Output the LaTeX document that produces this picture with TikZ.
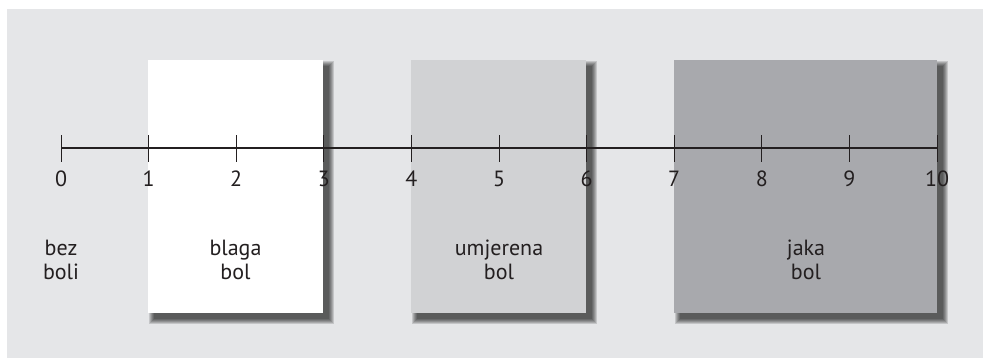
\documentclass[tikz,border=0pt]{standalone}
\usepackage{fontspec}
\setmainfont{PT Sans}
\definecolor{panel}{HTML}{E5E6E8}
\definecolor{midgray}{HTML}{D1D2D4}
\definecolor{darkgray}{HTML}{A8A9AD}
\definecolor{ink}{HTML}{231F20}
\tikzset{
  band/.style={draw=none, inner sep=0pt, anchor=north west, minimum height=253*0.75pt},
  tick/.style={draw=ink, line width=0.7pt},
  axisline/.style={draw=ink, line width=0.8pt},
  num/.style={text=ink, font=\fontsize{16.5}{18}\selectfont, anchor=base, inner sep=0pt},
  caption/.style={text=ink, font=\fontsize{16.5}{18}\selectfont, align=center, anchor=base, inner sep=0pt},
}
% soft drop shadow below/right of a rectangle given by two corners (px units)
\newcommand\softshadow[4]{%
  \foreach \k in {0,...,5}{
    \fill[black, opacity=0.14] (#1+6-\k,#2+6-\k) rectangle (#3+6+\k,#4+6+\k);
  }%
}
\begin{document}
\begin{tikzpicture}[x=0.75pt, y=-0.75pt]
  \useasboundingbox (0,0) rectangle (983,358);
  \fill[panel] (7,9) rectangle (983,358);

  % pain bands with shadows
  \softshadow{148}{60}{323}{313}
  \softshadow{411}{60}{586}{313}
  \softshadow{674}{60}{937}{313}
  \node[band, fill=white, minimum width=175*0.75pt] (mild) at (148,60) {};
  \node[band, fill=midgray, minimum width=175*0.75pt] (moderate) at (411,60) {};
  \node[band, fill=darkgray, minimum width=263*0.75pt] (severe) at (674,60) {};

  % scale 0..10
  \foreach \i in {0,...,10}{
    \coordinate (t\i) at (61+\i*87.6,148);
    \draw[tick] (61+\i*87.6,135) -- (61+\i*87.6,162);
    \node[num] (n\i) at (61+\i*87.6,186) {\i};
  }
  \draw[axisline] (t0) -- (t10);

  % captions (anchored at the baseline of the second line)
  \node[caption] (none) at (61,279) {bez\\boli};
  \node[caption] (mildtxt) at (235.5,279) {blaga\\bol};
  \node[caption] (modtxt) at (499,279) {umjerena\\bol};
  \node[caption] (sevtxt) at (806,279) {jaka\\bol};
\end{tikzpicture}
\end{document}
